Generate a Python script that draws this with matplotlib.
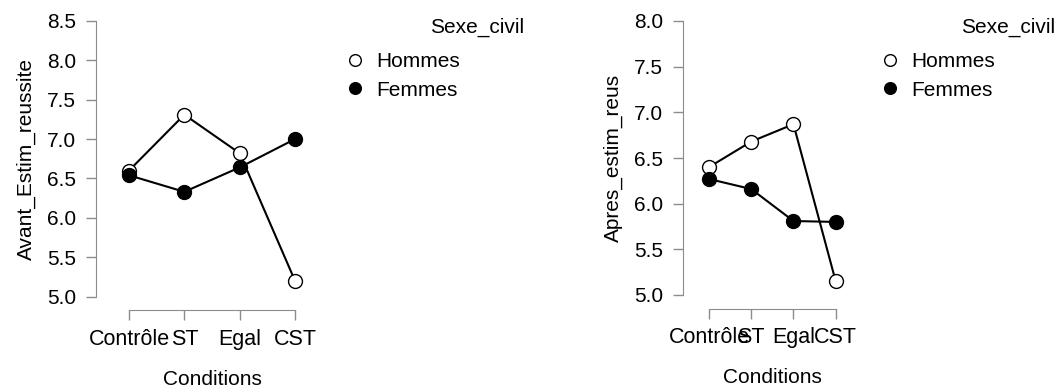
import matplotlib.pyplot as plt
from matplotlib.lines import Line2D

plt.rcParams['font.family'] = ['Liberation Sans', 'DejaVu Sans']

conditions = ["Contrôle", "ST", "Egal", "CST"]
groups = ["Hommes", "Femmes"]

# Avant
avant_hommes = [6.60, 7.31, 6.82, 5.20]
avant_femmes = [6.54, 6.33, 6.64, 7.00]
# Apres
apres_hommes = [6.40, 6.68, 6.87, 5.15]
apres_femmes = [6.27, 6.16, 5.81, 5.80]

W, H = 1062, 388
fig = plt.figure(figsize=(W / 100, H / 100), dpi=100)

grey = '#8c8c8c'


def panel(px_left, px_data0, px_data3, px_top, px_bottom, ymin, ymax, yticks,
          hommes, femmes, ylabel, leg_x, leg_y, title_right):
    pad = px_data0 - px_left
    px_right = px_data3 + pad
    ax = fig.add_axes([px_left / W, 1 - px_bottom / H,
                       (px_right - px_left) / W, (px_bottom - px_top) / H])
    step = (px_data3 - px_data0) / 3
    ax.set_xlim(-pad / step, 3 + pad / step)
    ax.set_ylim(ymin, ymax)
    x = list(range(len(conditions)))
    ax.plot(x, hommes, color='black', lw=1.5, marker='o', ms=10,
            mfc='white', mec='black', mew=1.0, clip_on=False, zorder=3)
    ax.plot(x, femmes, color='black', lw=1.5, marker='o', ms=10,
            mfc='black', mec='black', mew=1.0, clip_on=False, zorder=3)

    for s in ['top', 'right']:
        ax.spines[s].set_visible(False)
    ax.spines['left'].set_color(grey)
    ax.spines['bottom'].set_color(grey)
    ax.spines['left'].set_bounds(ymin, ymax)
    ax.spines['bottom'].set_bounds(0, 3)
    ax.spines['bottom'].set_position(('outward', 10))
    ax.set_xticks(x)
    ax.set_xticklabels(conditions)
    ax.set_yticks(yticks)
    ax.set_yticklabels([f"{v:.1f}" for v in yticks])
    ax.tick_params(axis='y', length=7.5, width=1, color=grey, labelsize=15, pad=6.5)
    ax.tick_params(axis='x', length=7.2, width=1, color=grey, labelsize=15.5, pad=6)
    ax.set_ylabel(ylabel, fontsize=15, labelpad=8)
    ax.set_xlabel("Conditions", fontsize=15, labelpad=14.5)

    handles = [
        Line2D([], [], ls='none', marker='o', ms=8.4, mfc='white', mec='black', mew=1.0),
        Line2D([], [], ls='none', marker='o', ms=8.4, mfc='black', mec='black', mew=1.0),
    ]
    ax.legend(handles, groups, loc='upper left', frameon=False, fontsize=15,
              bbox_to_anchor=(leg_x / W, 1 - leg_y / H), bbox_transform=fig.transFigure,
              borderpad=0, borderaxespad=0, handlelength=1.0, handletextpad=0.5,
              labelspacing=0.46)
    fig.text(title_right / W, 1 - 27 / H, "Sexe_civil", fontsize=15,
             ha='right', va='center')
    return ax


panel(95.7, 129, 295, 21, 296.5, 5.0, 8.5, [5.0, 5.5, 6.0, 6.5, 7.0, 7.5, 8.0, 8.5],
      avant_hommes, avant_femmes, "Avant_Estim_reussite", 344.6, 52, 524)
panel(682.7, 709, 835.7, 21, 295, 5.0, 8.0, [5.0, 5.5, 6.0, 6.5, 7.0, 7.5, 8.0],
      apres_hommes, apres_femmes, "Apres_estim_reus", 879.6, 52, 1055)

fig.savefig('out.png', dpi=100)
